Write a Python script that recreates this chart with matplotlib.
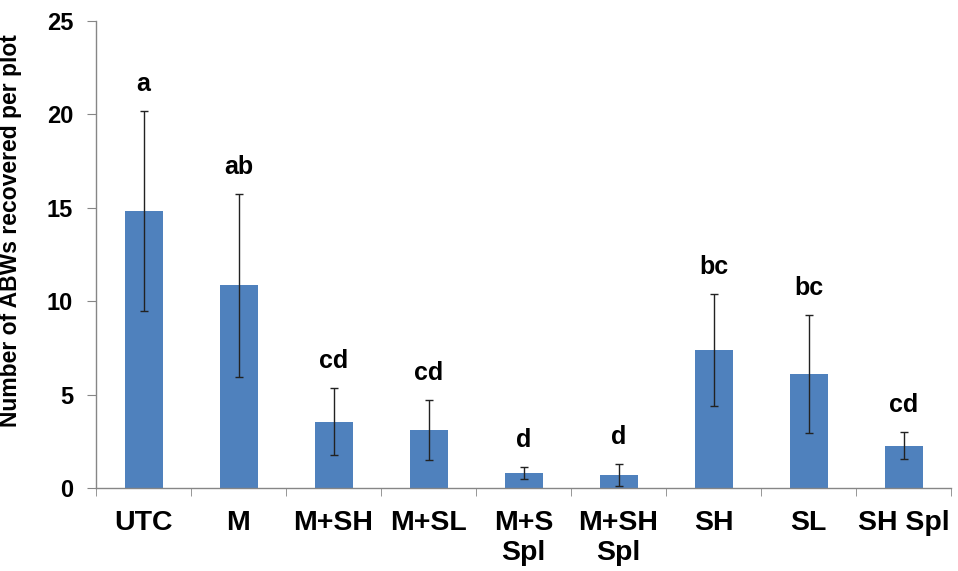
import matplotlib
matplotlib.use("Agg")
import matplotlib.pyplot as plt
import numpy as np

# treatments and mean number of ABWs recovered per plot
treatments = ["UTC", "M", "M+SH", "M+SL", "M+S\nSpl", "M+SH\nSpl", "SH", "SL", "SH Spl"]
means = [14.85, 10.85, 3.55, 3.1, 0.82, 0.7, 7.4, 6.1, 2.27]
errors = [5.35, 4.9, 1.8, 1.6, 0.33, 0.58, 3.0, 3.15, 0.72]
letters = ["a", "ab", "cd", "cd", "d", "d", "bc", "bc", "cd"]

plt.rcParams['font.family'] = ['Liberation Sans', 'DejaVu Sans']
plt.rcParams['font.weight'] = 'bold'

fig = plt.figure(figsize=(9.58, 5.71), dpi=100)
ax = fig.add_axes([96/958, 83/571, 855/958, 467/571])

x = np.arange(len(treatments))
ax.bar(x, means, width=0.4, color="#4F81BD", zorder=2)
ax.errorbar(x, means, yerr=errors, fmt="none", ecolor="#222222",
            elinewidth=1, capsize=3, capthick=1, zorder=3)

# significance letters above the error bars
for xi, m, e, lab in zip(x, means, errors, letters):
    ax.annotate(lab, (xi, m + e), xytext=(0, 15), textcoords="offset pixels",
                ha="center", va="bottom", fontsize=18, fontweight="bold")

ax.set_xlim(-0.5, len(treatments) - 0.5)
ax.set_ylim(0, 25)
ax.set_yticks([0, 5, 10, 15, 20, 25])
ax.set_xticks(x)
ax.set_xticklabels(treatments, fontsize=20.5, fontweight="bold", linespacing=1.18)
ax.set_xticks(np.arange(-0.5, len(treatments)), minor=True)
ax.tick_params(axis="x", which="major", length=0, pad=16)
ax.tick_params(axis="x", which="minor", length=6, color="#868686", direction="out")
ax.tick_params(axis="y", length=6.5, color="#868686", labelsize=17, pad=10)
for t in ax.get_yticklabels():
    t.set_fontweight("bold")

for s in ["top", "right"]:
    ax.spines[s].set_visible(False)
for s in ["left", "bottom"]:
    ax.spines[s].set_color("#868686")
    ax.spines[s].set_linewidth(1)

ax.set_ylabel("Number of ABWs recovered per plot", fontsize=16.5, fontweight="bold")
ax.yaxis.set_label_coords(-0.086, 0.552)

fig.savefig("out.png", dpi=100)
